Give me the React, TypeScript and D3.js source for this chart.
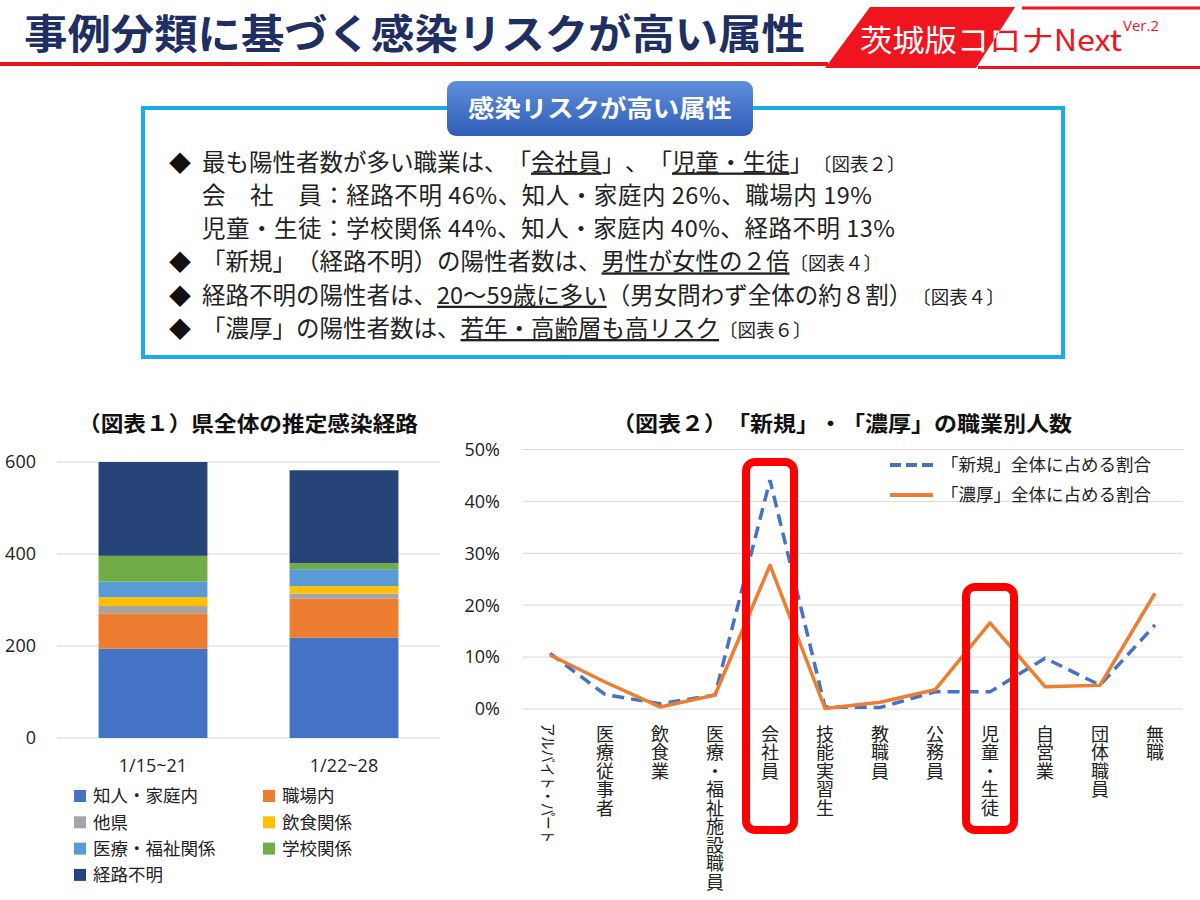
import React from 'react';
import * as d3 from 'd3';

// ---------- data ----------
const pageTitle = '事例分類に基づく感染リスクが高い属性';
const logoText = '茨城版コロナNext';
const logoVersion = 'Ver.2';
const boxTitle = '感染リスクが高い属性';
const chart1Title = '（図表１）県全体の推定感染経路';
const chart2Title = '（図表２）「新規」・「濃厚」の職業別人数';

type Seg = { t: string; u?: boolean; s?: boolean };
const summaryLines: { bullet: boolean; segs: Seg[]; fit?: number }[] = [
  { bullet: true, segs: [{ t: '最も陽性者数が多い職業は、「' }, { t: '会社員', u: true }, { t: '」、「' }, { t: '児童・生徒', u: true }, { t: '」' }, { t: '〔図表２〕', s: true }] },
  { bullet: false, segs: [{ t: '会　社　員：経路不明 46%、知人・家庭内 26%、職場内 19%' }], fit: 670 },
  { bullet: false, segs: [{ t: '児童・生徒：学校関係 44%、知人・家庭内 40%、経路不明 13%' }], fit: 693 },
  { bullet: true, segs: [{ t: '「新規」（経路不明）の陽性者数は、' }, { t: '男性が女性の２倍', u: true }, { t: '〔図表４〕', s: true }] },
  { bullet: true, segs: [{ t: '経路不明の陽性者は、' }, { t: '20～59歳に多い', u: true }, { t: '（男女問わず全体の約８割）' }, { t: '〔図表４〕', s: true }] },
  { bullet: true, segs: [{ t: '「濃厚」の陽性者数は、' }, { t: '若年・高齢層も高リスク', u: true }, { t: '〔図表６〕', s: true }] },
];

const periods = ['1/15~21', '1/22~28'];
const routeNames = ['知人・家庭内', '職場内', '他県', '飲食関係', '医療・福祉関係', '学校関係', '経路不明'];
const acquaintanceHome = [194, 218];
const workplace = [77, 85];
const otherPrefecture = [16, 11];
const dining = [19, 16];
const medicalWelfare = [34, 37];
const schoolRelated = [56, 13];
const unknownRoute = [204, 202];
const routeColors = ['#4472C4', '#ED7D31', '#A5A5A5', '#FFC000', '#5B9BD5', '#70AD47', '#264478'];
const countTicks = [0, 200, 400, 600];

const occupations = ['アルバイト・パート', '医療従事者', '飲食業', '医療・福祉施設職員', '会社員', '技能実習生', '教職員', '公務員', '児童・生徒', '自営業', '団体職員', '無職'];
const newShare = [10.7, 2.8, 1.0, 2.7, 44.1, 0.4, 0.3, 3.3, 3.3, 9.8, 4.6, 16.2];
const closeShare = [10.4, 5.2, 0.4, 2.7, 27.7, 0.1, 1.3, 3.7, 16.6, 4.3, 4.6, 22.3];
const shareTicks = [0, 10, 20, 30, 40, 50];
const shareSeriesNames = ['「新規」全体に占める割合', '「濃厚」全体に占める割合'];
const shareColors = ['#4472C4', '#ED7D31'];
const highlightOccupations = ['会社員', '児童・生徒'];

const JP = '"Noto Sans CJK JP", "Noto Sans", sans-serif';
const NUM = '"Open Sans", "Noto Sans", sans-serif';

export default function App() {
  // ----- left stacked chart -----
  const routeSeries = [acquaintanceHome, workplace, otherPrefecture, dining, medicalWelfare, schoolRelated, unknownRoute];
  const table = periods.map((p, i) => {
    const row: any = { period: p };
    routeNames.forEach((n, k) => (row[n] = routeSeries[k][i]));
    return row;
  });
  const stacked = d3.stack<any>().keys(routeNames)(table);
  const x1 = d3.scaleBand<string>().domain(periods).range([57, 440]).paddingInner(0.43).paddingOuter(0.2175);
  const y1 = d3.scaleLinear().domain([0, 600]).range([738, 462]);

  // ----- right line chart -----
  const x2 = d3.scaleBand<string>().domain(occupations).range([522.5, 1182.5]).padding(0);
  const cx = (o: string) => (x2(o) as number) + x2.bandwidth() / 2;
  const y2 = d3.scaleLinear().domain([0, 50]).range([709, 449.5]);
  const line = d3
    .line<number>()
    .x((_, i) => cx(occupations[i]))
    .y((d) => y2(d));

  const highlightTopPx: Record<string, number> = { '会社員': 462, '児童・生徒': 587 };

  const lineYs = [170.5, 203.8, 237, 270.4, 303.7, 337];

  return (
    <div style={{ position: 'absolute', left: 0, top: 0 }}>
      <svg width={1200} height={900} style={{ display: 'block', background: '#fff' }}>
        <style>{`text { text-spacing-trim: space-all; }`}</style>
        <defs>
          <linearGradient id="tabGrad" x1="0" y1="0" x2="0" y2="1">
            <stop offset="0" stopColor="#5f8fdc" />
            <stop offset="1" stopColor="#2f5db6" />
          </linearGradient>
          <clipPath id="logoClip">
            <polygon points="870,7 1015,7 976,68 825,68" />
          </clipPath>
        </defs>

        {/* ---------- header ---------- */}
        <text x={24} y={49} fontFamily={JP} fontWeight={700} fontSize={41} fill="#1f2f63" textLength={781} lengthAdjust="spacingAndGlyphs">
          {pageTitle}
        </text>
        <rect x={0} y={62} width={828} height={4} fill="#e8141b" />
        <polygon points="870,7 1015,7 976,68 825,68" fill="#f0141e" />
        <line x1={1022} y1={8} x2={1200} y2={8} stroke="#f0141e" strokeWidth={3} />
        <line x1={978} y1={67.5} x2={1200} y2={67.5} stroke="#f0141e" strokeWidth={3} />
        <text x={860} y={51} fontFamily={JP} fontSize={30} fill="#f0141e" textLength={262} lengthAdjust="spacingAndGlyphs">
          {logoText}
        </text>
        <g clipPath="url(#logoClip)">
          <text x={860} y={51} fontFamily={JP} fontSize={30} fill="#fff" textLength={262} lengthAdjust="spacingAndGlyphs">
            {logoText}
          </text>
        </g>
        <text x={1123} y={31} fontFamily={NUM} fontSize={15} fill="#f0141e">
          {logoVersion}
        </text>

        {/* ---------- summary box ---------- */}
        <rect x={143} y={108} width={920} height={249} fill="none" stroke="#19ace6" strokeWidth={4} />
        <rect x={447} y={81} width={306} height={55} rx={9} fill="url(#tabGrad)" />
        <text x={600} y={117} textAnchor="middle" fontFamily={JP} fontWeight={700} fontSize={24} fill="#fff" textLength={264} lengthAdjust="spacingAndGlyphs">
          {boxTitle}
        </text>
        {summaryLines.map((ln, i) => (
          <g key={i}>
            {ln.bullet && (
              <text x={169} y={lineYs[i]} fontFamily={JP} fontSize={22} fill="#111">
                ◆
              </text>
            )}
            <text
              x={202}
              y={lineYs[i]}
              fontFamily={JP}
              fontSize={23.5}
              fill="#222"
              textLength={ln.fit}
              lengthAdjust={ln.fit ? 'spacing' : undefined}
            >
              {ln.segs.map((s, k) => (
                <tspan key={k} fontSize={s.s ? 18.5 : 23.5} style={{ textDecoration: s.u ? 'underline' : 'none' }}>
                  {s.t}
                </tspan>
              ))}
            </text>
          </g>
        ))}

        {/* ---------- chart 1 ---------- */}
        <text x={248} y={431} textAnchor="middle" fontFamily={JP} fontWeight={700} fontSize={21} fill="#111" textLength={340} lengthAdjust="spacingAndGlyphs">
          {chart1Title}
        </text>
        {countTicks.map((t) => (
          <g key={t}>
            <line x1={57} x2={440} y1={y1(t)} y2={y1(t)} stroke="#d9d9d9" strokeWidth={1} />
            <text x={36} y={y1(t)} dy="0.35em" textAnchor="end" fontFamily={NUM} fontSize={18} fill="#222">
              {t}
            </text>
          </g>
        ))}
        {stacked.map((s, k) => (
          <g key={s.key} fill={routeColors[k]}>
            {s.map((d, i) => (
              <rect
                key={i}
                x={x1(periods[i])}
                width={x1.bandwidth()}
                y={y1(d[1])}
                height={y1(d[0]) - y1(d[1])}
              />
            ))}
          </g>
        ))}
        {periods.map((p) => (
          <text key={p} x={(x1(p) as number) + x1.bandwidth() / 2} y={772} textAnchor="middle" fontFamily={NUM} fontSize={18} fill="#222">
            {p}
          </text>
        ))}
        {routeNames.map((n, k) => {
          const col = k % 2;
          const row = Math.floor(k / 2);
          const lx = col === 0 ? 74 : 263;
          const ly = 796 + row * 26.3;
          return (
            <g key={n}>
              <rect x={lx} y={ly - 6} width={12} height={12} fill={routeColors[k]} />
              <text x={lx + 19} y={ly} dy="0.36em" fontFamily={JP} fontSize={17.5} fill="#222">
                {n}
              </text>
            </g>
          );
        })}

        {/* ---------- chart 2 ---------- */}
        <text x={842} y={431} textAnchor="middle" fontFamily={JP} fontWeight={700} fontSize={21} fill="#111" textLength={460} lengthAdjust="spacingAndGlyphs">
          {chart2Title}
        </text>
        {shareTicks.map((t) => (
          <g key={t}>
            <line x1={522.5} x2={1182.5} y1={y2(t)} y2={y2(t)} stroke="#d9d9d9" strokeWidth={1} />
            <text x={500} y={y2(t)} dy="0.35em" textAnchor="end" fontFamily={NUM} fontSize={18} fill="#222">
              {t}%
            </text>
          </g>
        ))}
        <path d={line(newShare) || ''} fill="none" stroke={shareColors[0]} strokeWidth={3.5} strokeDasharray="12,7" />
        <path d={line(closeShare) || ''} fill="none" stroke={shareColors[1]} strokeWidth={3.5} strokeLinejoin="round" />
        {shareSeriesNames.map((n, k) => (
          <g key={n}>
            <line x1={890} x2={933} y1={465 + k * 30} y2={465 + k * 30} stroke={shareColors[k]} strokeWidth={4} strokeDasharray={k === 0 ? '11,5' : undefined} />
            <text x={941} y={465 + k * 30} dy="0.36em" fontFamily={JP} fontSize={17.5} fill="#222">
              {n}
            </text>
          </g>
        ))}
        {occupations.map((o, i) => {
          const x = cx(o);
          if (i === 0) {
            return (
              <text key={o} transform={`translate(${x - 1},723) rotate(90)`} dominantBaseline="central" fontFamily={JP} fontSize={16} fill="#222" textLength={120} lengthAdjust="spacingAndGlyphs">
                {o}
              </text>
            );
          }
          return (
            <text
              key={o}
              x={x}
              y={725}
              fontFamily={JP}
              fontSize={18}
              fill="#222"
              style={{ writingMode: 'vertical-rl', textOrientation: 'upright', letterSpacing: '0.5px' } as any}
            >
              {o}
            </text>
          );
        })}
        {highlightOccupations.map((o) => {
          const x = cx(o);
          const top = highlightTopPx[o];
          return (
            <rect key={o} x={x - 24} y={top} width={48} height={830 - top} rx={9} fill="none" stroke="#ff0000" strokeWidth={8} />
          );
        })}
      </svg>
    </div>
  );
}
